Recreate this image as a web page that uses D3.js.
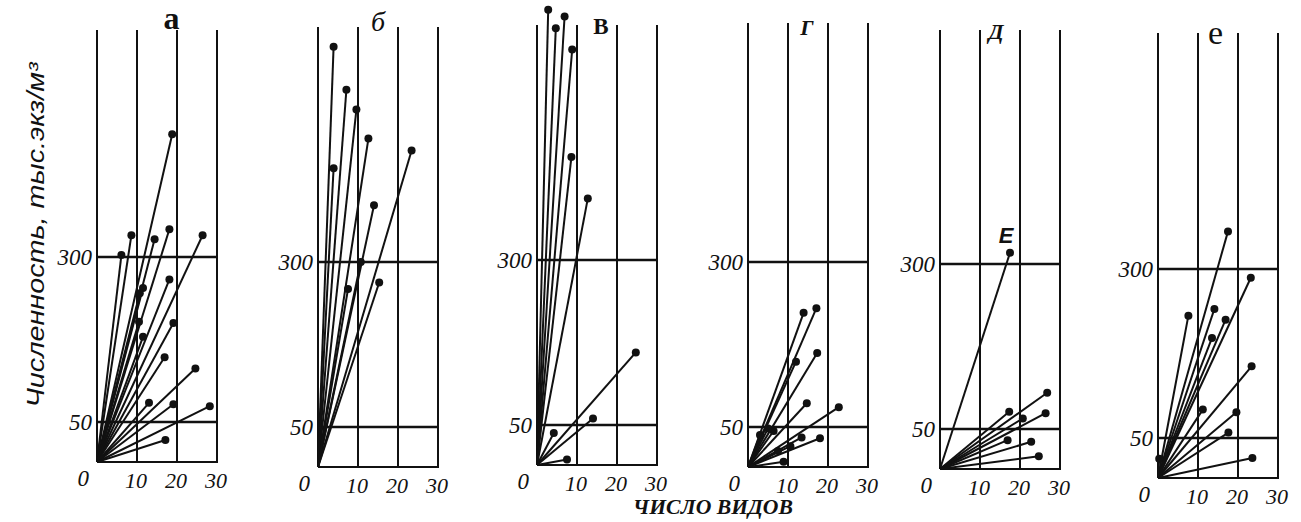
<!DOCTYPE html>
<html>
<head>
<meta charset="utf-8">
<script src="https://cdn.jsdelivr.net/npm/d3@7"></script>
<style>
html,body{margin:0;padding:0;background:#fff;}
svg{display:block;}
</style>
</head>
<body>
<svg id="chart" width="1301" height="522"></svg>
<script>
// ---- data ----
const panelLetters = ["а", "б", "в", "г", "д", "е"];
const yTicks = [0, 50, 300];
const xTicks = [10, 20, 30];
const yTitle = "Численность, тыс.экз/м³";
const xTitle = "ЧИСЛО ВИДОВ";

const speciesA = [18.8, 8.6, 6.1, 14.4, 18.1, 26.4, 18.1, 11.5, 10.7, 19.1, 10.5, 11.5, 16.9, 24.6, 13, 19.1, 28.2, 17.1];
const abundA   = [486, 333, 303, 327, 342, 333, 266, 253, 245, 200, 202, 179, 148, 131, 79, 77, 74, 27.5];

const speciesB = [3.9, 7.1, 9.6, 12.6, 23.4, 3.9, 14, 10.7, 7.5, 15.3];
const abundB   = [626, 561, 531, 487, 469, 442, 386, 300, 259, 269];

const speciesV = [2.8, 4.7, 6.9, 8.8, 8.6, 12.7, 24.7, 14, 4.2, 7.5];
const abundV   = [679, 651, 669, 619, 456, 393, 160, 60, 40, 7];

const speciesG = [13.9, 17.1, 12, 17.3, 14.7, 22.7, 13.4, 18, 10.6, 8.9, 6.4, 3, 7.5, 5];
const abundG   = [223, 230, 149, 162, 86, 80, 37, 36, 26, 6.5, 45, 40, 20, 48];

const speciesD = [17.5, 26.8, 26.4, 17.3, 20.7, 16.9, 22.8, 24.7];
const abundD   = [317, 105, 74, 76, 66, 36, 34, 16];
const labelD   = ["E", "", "", "", "", "", "", ""];

const speciesE = [17.5, 23.2, 7.6, 14.1, 16.9, 13.5, 23.4, 11.2, 19.6, 17.6, 23.6, 0.3];
const abundE   = [357, 287, 231, 241, 225, 198, 156, 92, 88, 58, 25, 24];

const seriesSpecies = [speciesA, speciesB, speciesV, speciesG, speciesD, speciesE];
const seriesAbund   = [abundA, abundB, abundV, abundG, abundD, abundE];
const seriesLabels  = [null, null, null, null, labelD, null];

// ---- layout ----
const layout = [
  {x0: 97,   y0: 462, h300: 205, top: 30, lx: 18.6, ly: 29, ls: 32, lw: "bold",   lst: "normal", lv: "normal"},
  {x0: 318,  y0: 467, h300: 205, top: 27, lx: 15,   ly: 31, ls: 28, lw: "normal", lst: "italic", lv: "normal"},
  {x0: 537,  y0: 465, h300: 205, top: 25, lx: 16,   ly: 34, ls: 33, lw: "bold",   lst: "normal", lv: "small-caps"},
  {x0: 748,  y0: 467, h300: 205, top: 23, lx: 14.7, ly: 35, ls: 32, lw: "bold",   lst: "italic", lv: "small-caps"},
  {x0: 940,  y0: 469, h300: 205, top: 30, lx: 14,   ly: 39, ls: 32, lw: "bold",   lst: "italic", lv: "small-caps"},
  {x0: 1158, y0: 478, h300: 209, top: 33, lx: 14.4, ly: 44, ls: 34, lw: "normal", lst: "normal", lv: "normal"}
];
const plotW = 120;

const svg = d3.select("#chart");
const ink = "#111";

layout.forEach((L, i) => {
  const x = d3.scaleLinear().domain([0, 30]).range([L.x0, L.x0 + plotW]);
  const y = d3.scaleLinear().domain([0, 50, 300, 700])
              .range([L.y0, L.y0 - 40, L.y0 - L.h300, L.y0 - L.h300 - 264]);
  const g = svg.append("g");

  // vertical lines (axis + grid)
  g.selectAll(".v").data([0].concat(xTicks)).enter().append("line")
    .attr("x1", d => x(d)).attr("x2", d => x(d))
    .attr("y1", L.top).attr("y2", y(0))
    .attr("stroke", ink).attr("stroke-width", 2);

  // horizontal lines
  g.selectAll(".h").data(yTicks).enter().append("line")
    .attr("x1", x(0)).attr("x2", x(30) + 1)
    .attr("y1", d => y(d)).attr("y2", d => y(d))
    .attr("stroke", ink).attr("stroke-width", d => d === 0 ? 2 : 2.3);

  // y tick labels
  g.selectAll(".yl").data(yTicks).enter().append("text")
    .attr("x", d => d === 0 ? x(0) - 8 : x(0) - 5)
    .attr("y", d => d === 0 ? y(d) + 24 : y(d) + 8)
    .attr("text-anchor", "end")
    .attr("font-family", "Liberation Serif, serif")
    .attr("font-style", "italic")
    .attr("font-size", 23)
    .attr("fill", ink)
    .text(d => d);

  // x tick labels
  g.selectAll(".xl").data(xTicks).enter().append("text")
    .attr("x", d => x(d) - 1)
    .attr("y", y(0) + 26)
    .attr("text-anchor", "middle")
    .attr("font-family", "Liberation Serif, serif")
    .attr("font-style", "italic")
    .attr("font-size", 22)
    .attr("fill", ink)
    .text(d => d);

  // panel letter
  g.append("text")
    .attr("x", x(L.lx)).attr("y", L.ly)
    .attr("text-anchor", "middle")
    .attr("font-family", "Liberation Serif, serif")
    .attr("font-style", L.lst)
    .attr("font-weight", L.lw)
    .attr("font-variant", L.lv)
    .attr("font-size", L.ls)
    .attr("fill", ink)
    .text(panelLetters[i]);

  const pts = seriesSpecies[i].map((s, k) => ({s, a: seriesAbund[i][k], lab: seriesLabels[i] ? seriesLabels[i][k] : ""}));

  g.selectAll(".ray").data(pts).enter().append("line")
    .attr("x1", x(0)).attr("y1", y(0))
    .attr("x2", d => x(d.s)).attr("y2", d => y(d.a))
    .attr("stroke", ink).attr("stroke-width", 2);

  g.selectAll(".dot").data(pts).enter().append("circle")
    .attr("cx", d => x(d.s)).attr("cy", d => y(d.a))
    .attr("r", 4).attr("fill", ink);

  g.selectAll(".pl").data(pts.filter(d => d.lab)).enter().append("text")
    .attr("x", d => x(d.s) - 4).attr("y", d => y(d.a) - 10)
    .attr("text-anchor", "middle")
    .attr("font-family", "Liberation Sans, sans-serif")
    .attr("font-style", "italic")
    .attr("font-weight", "bold")
    .attr("font-size", 22)
    .attr("fill", ink)
    .text(d => d.lab);
});

// axis titles
svg.append("text")
  .attr("transform", "translate(44,235) rotate(-90)")
  .attr("text-anchor", "middle")
  .attr("font-family", "Liberation Sans, sans-serif")
  .attr("font-style", "italic")
  .attr("font-size", 23)
  .attr("fill", ink)
  .attr("textLength", 345)
  .attr("lengthAdjust", "spacingAndGlyphs")
  .text(yTitle);

svg.append("text")
  .attr("x", 713).attr("y", 514)
  .attr("text-anchor", "middle")
  .attr("font-family", "Liberation Serif, serif")
  .attr("font-style", "italic")
  .attr("font-weight", "bold")
  .attr("font-size", 21)
  .attr("fill", ink)
  .attr("textLength", 160)
  .attr("lengthAdjust", "spacingAndGlyphs")
  .text(xTitle);
</script>
</body>
</html>
